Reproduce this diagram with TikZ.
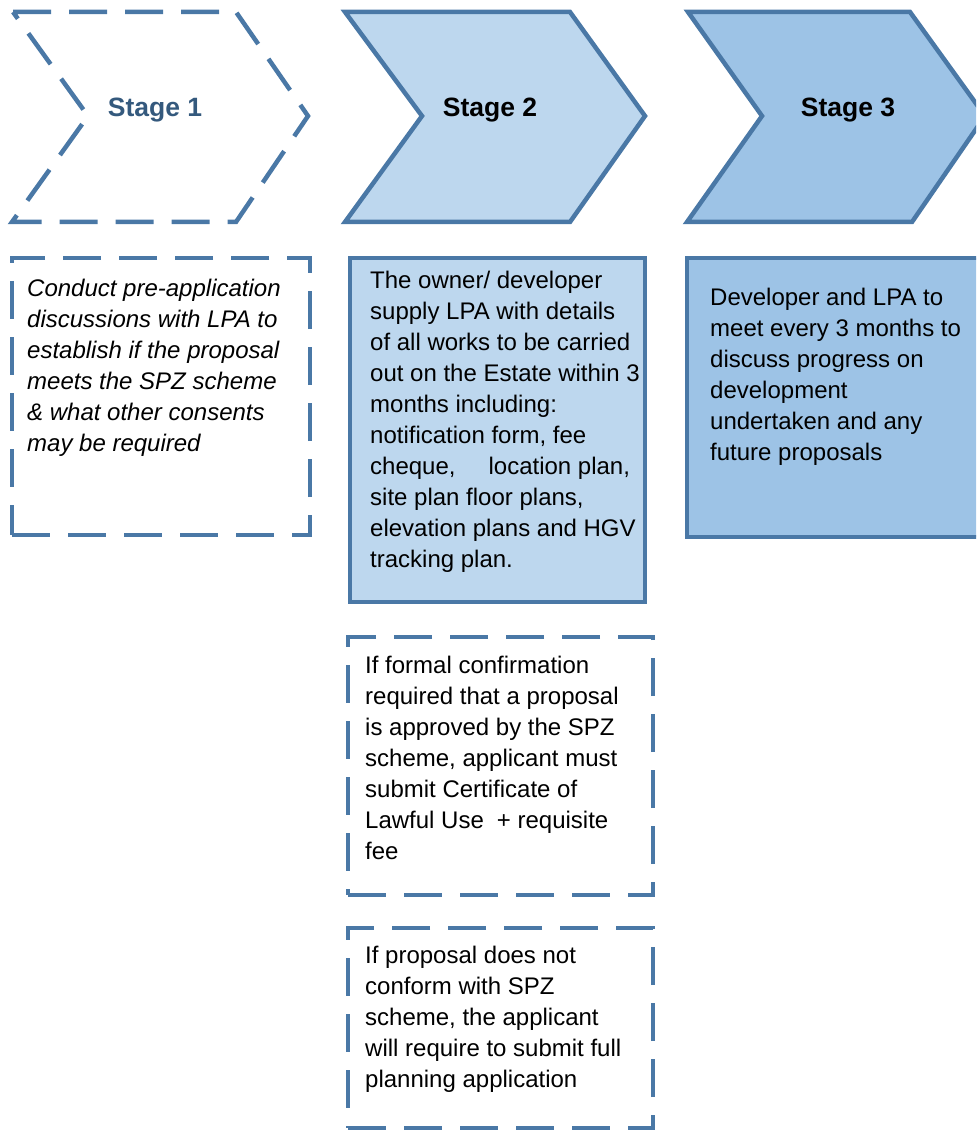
\documentclass[tikz,border=0pt]{standalone}
\usepackage{fontspec}
\setmainfont{Liberation Sans}
\definecolor{edgeblue}{HTML}{4A78A6}
\definecolor{paleblue}{HTML}{BDD7EE}
\definecolor{midblue}{HTML}{9DC3E6}
\definecolor{titleblue}{HTML}{34597D}
\begin{document}
\begin{tikzpicture}[x=1pt,y=-1pt,
  edge/.style={line width=4.5pt, draw=edgeblue, line join=miter},
  dashedge/.style={edge, dash pattern=on 38pt off 18pt},
  stagetitle/.style={font=\bfseries\fontsize{26.5}{30}\selectfont, inner sep=0pt, anchor=base},
  bodytext/.style={font=\fontsize{24}{31}\selectfont, align=left, anchor=north west, inner sep=0pt},
  boxshape/.style={rectangle, anchor=north west, inner sep=0pt, outer sep=0pt},
]
\useasboundingbox (0,0) rectangle (976,1131);
\clip (0,0) rectangle (976,1131);

% stage chevrons
\draw[dashedge] (13,12) -- (236,12) -- (308,116) -- (236,222) -- (12,222) -- (88,116) -- cycle;
\draw[edge, fill=paleblue] (345,12) -- (570,12) -- (645,116) -- (570,222) -- (345,222) -- (422,116) -- cycle;
\draw[edge, fill=midblue] (688,12) -- (910,12) -- (985,116) -- (912,222) -- (687,222) -- (762,116) -- cycle;

\node[stagetitle, text=titleblue] (s1) at (155,117) {Stage 1};
\node[stagetitle] (s2) at (490,117) {Stage 2};
\node[stagetitle] (s3) at (848,117) {Stage 3};

% description boxes
\node[boxshape, dashedge, minimum width=298pt, minimum height=277pt] (b1) at (12,258) {};
\node[boxshape, edge, fill=paleblue, minimum width=295pt, minimum height=344pt] (b2) at (350,258) {};
\node[boxshape, edge, fill=midblue, minimum width=298pt, minimum height=279pt] (b3) at (687,258) {};
\node[boxshape, dashedge, minimum width=305pt, minimum height=258pt] (b4) at (348,637) {};
\node[boxshape, dashedge, minimum width=305pt, minimum height=200pt] (b5) at (348,928) {};

\node[bodytext, font=\itshape\fontsize{24}{31}\selectfont] (t1) at (27,278.8) {Conduct pre-application\\discussions with LPA to\\establish if the proposal\\meets the SPZ scheme\\\& what other consents\\may be required};
\node[bodytext] (t2) at (370,270.8) {The owner/ developer\\supply LPA with details\\of all works to be carried\\out on the Estate within 3\\months including:\\notification form, fee\\cheque,\hspace*{33pt}location plan,\\site plan floor plans,\\elevation plans and HGV\\tracking plan.};
\node[bodytext] (t3) at (710,287.8) {Developer and LPA to\\meet every 3 months to\\discuss progress on\\development\\undertaken and any\\future proposals};
\node[bodytext] (t4) at (365,655.8) {If formal confirmation\\required that a proposal\\is approved by the SPZ\\scheme, applicant must\\submit Certificate of\\Lawful Use\hspace*{13pt}+ requisite\\fee};
\node[bodytext] (t5) at (365,945.8) {If proposal does not\\conform with SPZ\\scheme, the applicant\\will require to submit full\\planning application};
\end{tikzpicture}
\end{document}
